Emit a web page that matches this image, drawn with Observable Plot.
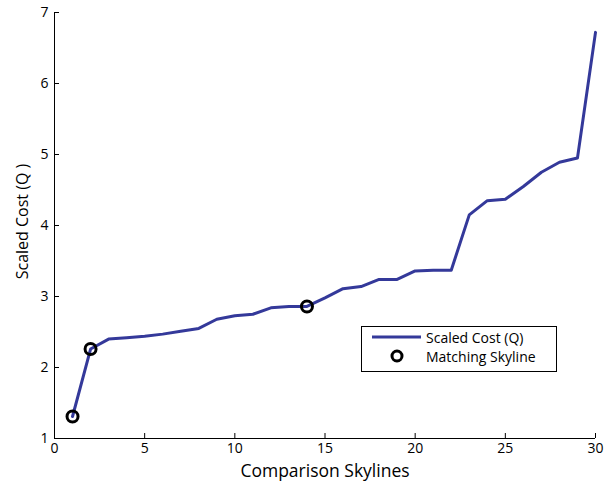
<!DOCTYPE html>
<html>
<head>
<meta charset="utf-8">
<script src="https://cdn.jsdelivr.net/npm/d3@7"></script>
<script src="https://cdn.jsdelivr.net/npm/@observablehq/plot@0.6"></script>
<style>
  body { margin: 0; background: #fff; }
  #wrap { position: relative; width: 611px; height: 487px; font-family: "Open Sans", sans-serif; }
  #legend { position: absolute; left: 361px; top: 326px; width: 194px; height: 44px; border: 1px solid #000; background: #fff; font-size: 14px; color: #000; }
  #legend .row { position: absolute; left: 0; height: 20px; display: flex; align-items: center; }
</style>
</head>
<body>
<div id="wrap"></div>
<script>
const skylines = [1,2,3,4,5,6,7,8,9,10,11,12,13,14,15,16,17,18,19,20,21,22,23,24,25,26,27,28,29,30];
const cost = [1.31,2.26,2.40,2.42,2.44,2.47,2.51,2.55,2.68,2.73,2.75,2.84,2.86,2.86,2.98,3.11,3.14,3.24,3.24,3.36,3.37,3.37,4.15,4.35,4.37,4.55,4.75,4.89,4.95,6.72];
const matchIdx = [1,2,14];
const xTicks = [0,5,10,15,20,25,30];
const yTicks = [1,2,3,4,5,6,7];

const data = skylines.map((s,i) => ({s, c: cost[i]}));
const matches = data.filter(d => matchIdx.includes(d.s));

const lineColor = "#34399a";
const W = 611, H = 487, mL = 54, mR = 16, mT = 12, mB = 49, tick = 5;

const chart = Plot.plot({
  width: W,
  height: H,
  marginLeft: mL,
  marginRight: mR,
  marginTop: mT,
  marginBottom: mB,
  style: {fontFamily: "Open Sans, sans-serif", fontSize: "14px", color: "#000", background: "#fff"},
  x: {domain: [0, 30]},
  y: {domain: [1, 7]},
  marks: [
    // inward ticks
    Plot.tickX(xTicks, {x: d => d, stroke: "#000", insetTop: (H - mT - mB) - tick}),
    Plot.tickY(yTicks, {y: d => d, stroke: "#000", insetRight: (W - mL - mR) - tick}),
    // labels
    Plot.axisX({ticks: xTicks, tickSize: 0, tickPadding: 5, tickFormat: "d", label: null, fontSize: 14}),
    Plot.axisY({ticks: yTicks, tickSize: 0, tickPadding: 6, tickFormat: "d", label: null, fontSize: 14}),
    Plot.ruleY([1], {stroke: "#000"}),
    Plot.ruleX([0], {stroke: "#000"}),
    Plot.line(data, {x: "s", y: "c", stroke: lineColor, strokeWidth: 3, strokeLinejoin: "round"}),
    Plot.dot(matches, {x: "s", y: "c", r: 5.5, stroke: "#000", strokeWidth: 3, fill: "none"}),
    Plot.text(["Comparison Skylines"], {frameAnchor: "bottom", dy: 38, fontSize: 17.5}),
    Plot.text(["Scaled Cost (Q )"], {frameAnchor: "left", textAnchor: "middle", dx: -32, dy: -4, rotate: -90, fontSize: 16})
  ]
});
document.getElementById("wrap").appendChild(chart);

const legend = document.createElement("div");
legend.id = "legend";
legend.innerHTML = `
  <div class="row" style="top:0px"><svg width="64" height="20"><line x1="10" x2="59" y1="10" y2="10" stroke="${lineColor}" stroke-width="3"/></svg><span>Scaled Cost (Q)</span></div>
  <div class="row" style="top:19px"><svg width="64" height="20"><circle cx="35" cy="10" r="5" fill="none" stroke="#000" stroke-width="3"/></svg><span>Matching Skyline</span></div>`;
document.getElementById("wrap").appendChild(legend);
</script>
</body>
</html>
